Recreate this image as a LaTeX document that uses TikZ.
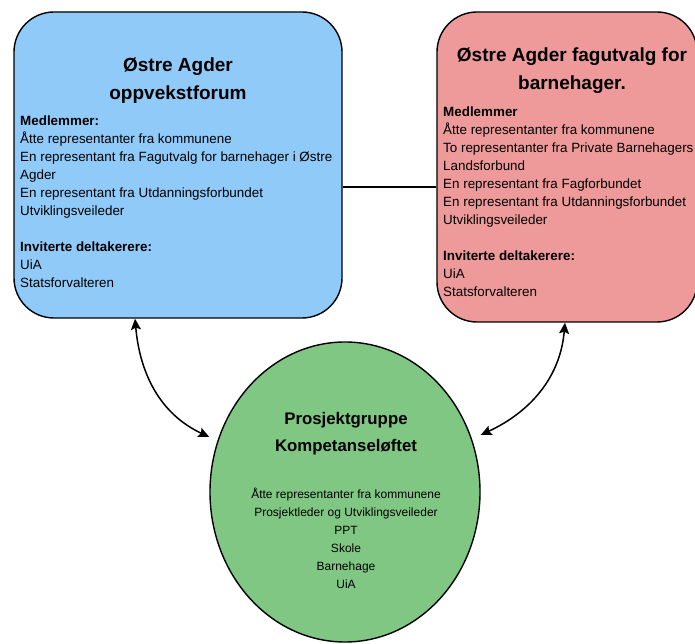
\documentclass[tikz,border=0pt]{standalone}
\usepackage{fontspec}
\setmainfont{Liberation Sans}
\usepackage{xcolor}
\usetikzlibrary{shapes.geometric,arrows.meta}
\definecolor{forumblue}{HTML}{90CAF9}
\definecolor{utvalgred}{HTML}{EF9A9A}
\definecolor{gruppegreen}{HTML}{81C784}
\tikzset{
  board/.style={draw,line width=1.4pt,rounded corners=40pt,inner sep=0},
  title/.style={font=\fontsize{19}{28}\selectfont\bfseries,align=center,inner sep=0},
  body/.style={font=\fontsize{13.4}{18}\selectfont,align=left,inner sep=0,anchor=west},
  link/.style={line width=1.5pt,{Stealth[length=11pt,width=10pt,inset=2pt]}-{Stealth[length=11pt,width=10pt,inset=2pt]}}
}
\begin{document}
\begin{tikzpicture}[x=1pt,y=1pt]
    \fill[white] (0,0) rectangle (695,644);
    \useasboundingbox (0,0) rectangle (695,644);
    \node[board,fill=forumblue,minimum width=328pt,minimum height=306pt] (forum) at (178,479) {};
    \node[board,fill=utvalgred,minimum width=260pt,minimum height=310pt] (fagutvalg) at (567,477) {};
    \node[draw,ellipse,line width=1.4pt,fill=gruppegreen,minimum width=270pt,minimum height=300pt] (gruppe) at (345,152) {};
    \node[title] (forumtitle) at (178,563) {Østre Agder\\oppvekstforum};
    \node[title] (fagutvalgtitle) at (572,573) {Østre Agder fagutvalg for\\barnehager.};
    \node[title,font=\fontsize{16.8}{27}\selectfont\bfseries] (gruppetitle) at (346,210) {Prosjektgruppe\\Kompetanseløftet};
    \node[body] (forumbody) at (20,442) {\textbf{Medlemmer:}\\Åtte representanter fra kommunene\\En representant fra Fagutvalg for barnehager i Østre\\Agder\\En representant fra Utdanningsforbundet\\Utviklingsveileder\\[18pt]\textbf{Inviterte deltakerere:}\\UiA\\Statsforvalteren};
    \node[body] (fagutvalgbody) at (443,442) {\textbf{Medlemmer}\\Åtte representanter fra kommunene\\To representanter fra Private Barnehagers\\Landsforbund\\En representant fra Fagforbundet\\En representant fra Utdanningsforbundet\\Utviklingsveileder\\[18pt]\textbf{Inviterte deltakerere:}\\UiA\\Statsforvalteren};
    \node[body,anchor=center,align=center,font=\fontsize{12}{18}\selectfont] (gruppebody) at (346,106) {Åtte representanter fra kommunene\\Prosjektleder og Utviklingsveileder\\PPT\\Skole\\Barnehage\\UiA};
    \draw[line width=1.4pt] ([yshift=-22pt]forum.east) -- ([yshift=-20pt]fagutvalg.west);
    \draw[link] ([xshift=-43pt]forum.south) to [out=-85,in=155] ([yshift=55pt]gruppe.west);
    \draw[link] ([xshift=-2pt]fagutvalg.south) to [out=-95,in=25] ([yshift=57pt]gruppe.east);
\end{tikzpicture}
\end{document}
